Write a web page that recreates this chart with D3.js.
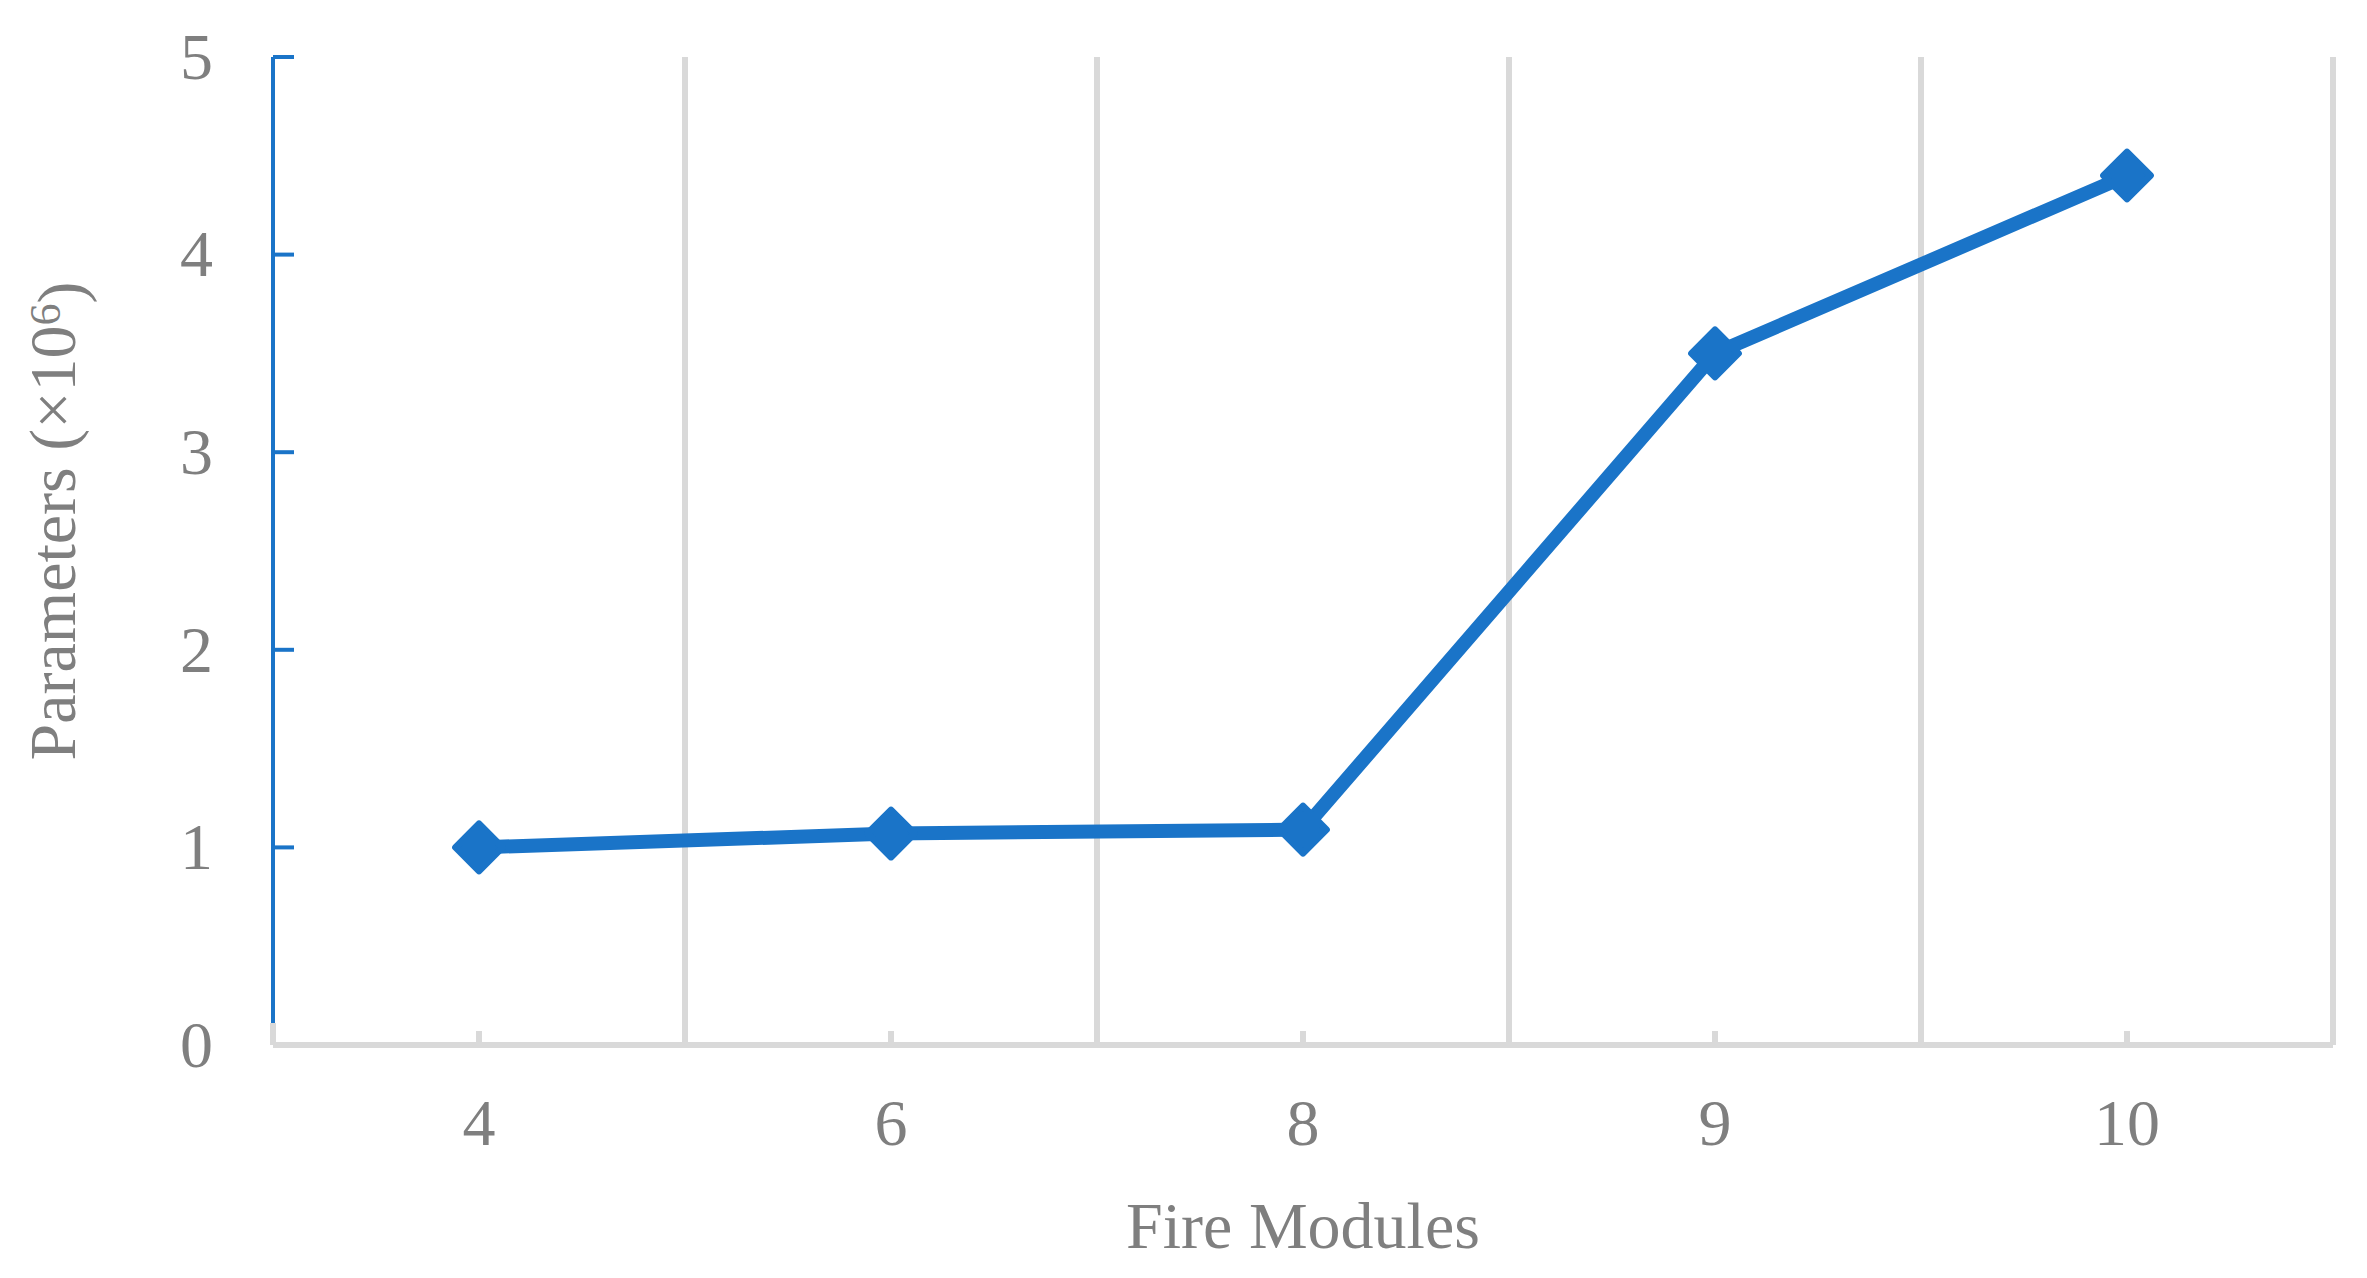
<!DOCTYPE html>
<html>
<head>
<meta charset="utf-8">
<script src="https://cdn.jsdelivr.net/npm/d3@7"></script>
<style>
  body { margin: 0; background: #fff; }
  text { font-family: "Liberation Serif", "Times New Roman", serif; fill: #7f7f7f; }
</style>
</head>
<body>
<svg width="2367" height="1278"></svg>
<script>
// data
var modules = ["4", "6", "8", "9", "10"];
var params = [1.0, 1.07, 1.09, 3.5, 4.4];
var yTicks = [0, 1, 2, 3, 4, 5];

var blue = "#1a74c8",
    grey = "#d9d9d9";

// select svg, set margins width and height
var svg = d3.select("svg"),
margin = {top: 57, bottom: 233, left: 273, right: 34},
width = +svg.attr("width") - margin.left - margin.right,
height = +svg.attr("height") - margin.top - margin.bottom,
g = svg.append("g").attr("transform", "translate(" + margin.left + "," + margin.top + ")");

// scales
var x = d3.scaleBand()
    .domain(modules)
    .range([0, width])
    .padding(0);
var y = d3.scaleLinear()
    .domain([0, 5])
    .range([height, 0]);

var cx = function(d) { return x(d) + x.bandwidth() / 2; };

// vertical gridlines at the band edges
var edges = modules.map(function(d) { return x(d) + x.bandwidth(); });
g.selectAll(".grid")
    .data(edges)
  .enter().append("line")
    .attr("class", "grid")
    .attr("x1", function(d) { return d; })
    .attr("x2", function(d) { return d; })
    .attr("y1", 0)
    .attr("y2", height)
    .style("stroke", grey)
    .style("stroke-width", 6);

// x axis line and short ticks
g.append("line")
    .attr("x1", 0)
    .attr("x2", width)
    .attr("y1", height)
    .attr("y2", height)
    .style("stroke", grey)
    .style("stroke-width", 6);
g.selectAll(".xtick")
    .data(modules)
  .enter().append("line")
    .attr("class", "xtick")
    .attr("x1", cx)
    .attr("x2", cx)
    .attr("y1", height)
    .attr("y2", height - 14)
    .style("stroke", grey)
    .style("stroke-width", 6);
g.append("line")
    .attr("x1", 0).attr("x2", 0)
    .attr("y1", height).attr("y2", height - 22)
    .style("stroke", grey)
    .style("stroke-width", 6);

// x labels
g.selectAll(".xlabel")
    .data(modules)
  .enter().append("text")
    .attr("class", "xlabel")
    .attr("x", cx)
    .attr("y", height + 100)
    .style("text-anchor", "middle")
    .style("font-size", "66px")
    .text(function(d) { return d; });

// y axis (blue, ticks pointing inwards)
g.append("line")
    .attr("x1", 0).attr("x2", 0)
    .attr("y1", 0).attr("y2", height - 22)
    .style("stroke", blue)
    .style("stroke-width", 4);
g.selectAll(".ytick")
    .data(yTicks.filter(function(d) { return d > 0; }))
  .enter().append("line")
    .attr("class", "ytick")
    .attr("x1", 0)
    .attr("x2", 21)
    .attr("y1", function(d) { return y(d); })
    .attr("y2", function(d) { return y(d); })
    .style("stroke", blue)
    .style("stroke-width", 4);
g.selectAll(".ylabel")
    .data(yTicks)
  .enter().append("text")
    .attr("class", "ylabel")
    .attr("x", -60)
    .attr("y", function(d) { return y(d); })
    .attr("dy", "0.33em")
    .style("text-anchor", "end")
    .style("font-size", "66px")
    .text(function(d) { return d; });

// axis titles
svg.append("text")
    .attr("x", margin.left + width / 2)
    .attr("y", 1248)
    .style("text-anchor", "middle")
    .style("font-size", "66px")
    .text("Fire Modules");

var yt = svg.append("text")
    .attr("transform", "translate(75,521) rotate(-90)")
    .style("text-anchor", "middle")
    .style("font-size", "66px");
yt.append("tspan").text("Parameters (×10");
yt.append("tspan").attr("dy", "-0.35em").style("font-size", "44px").text("6");
yt.append("tspan").attr("dy", "0.35em").text(")");

// line
var line = d3.line()
    .x(function(d, i) { return cx(modules[i]); })
    .y(function(d) { return y(d); });

g.append("path")
    .datum(params)
    .attr("fill", "none")
    .style("stroke", blue)
    .style("stroke-width", 14)
    .attr("d", line);

// diamond markers
var sym = d3.symbol().type(d3.symbolSquare).size(33 * 33);
g.selectAll(".marker")
    .data(params)
  .enter().append("path")
    .attr("class", "marker")
    .attr("transform", function(d, i) { return "translate(" + cx(modules[i]) + "," + y(d) + ") rotate(45)"; })
    .attr("d", sym)
    .style("fill", blue)
    .style("stroke", blue)
    .style("stroke-width", 7)
    .style("stroke-linejoin", "round");
</script>
</body>
</html>
